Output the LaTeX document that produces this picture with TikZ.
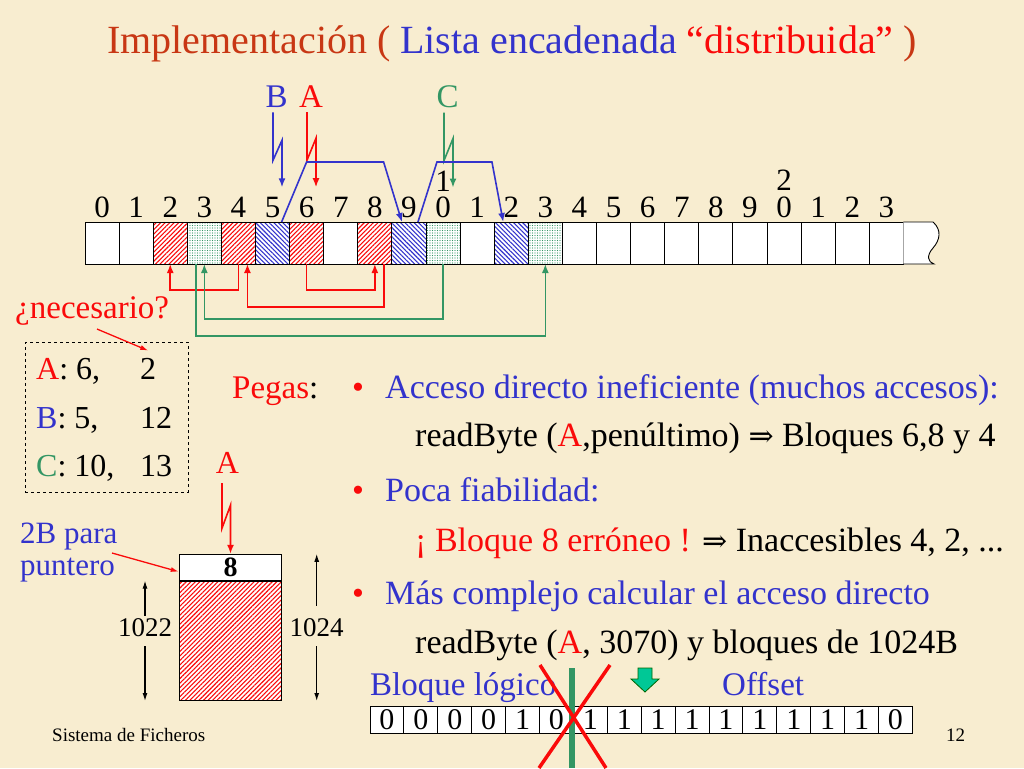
\documentclass[tikz,border=0pt]{standalone}
\usepackage{fontspec}
\setmainfont{Liberation Serif}
\newfontfamily\symf{DejaVu Serif}
\usetikzlibrary{patterns.meta,arrows.meta}
\definecolor{bgc}{RGB}{248,237,208}
\definecolor{titc}{RGB}{200,55,20}
\definecolor{myblue}{RGB}{51,51,204}
\definecolor{myred}{RGB}{250,10,10}
\definecolor{mygreen}{RGB}{51,150,100}
\definecolor{arrgreen}{RGB}{0,200,150}
\newcommand{\fs}[1]{\fontsize{#1}{#1}\selectfont}
\newcommand{\impl}{{\symf\fontsize{30}{30}\selectfont ⇒}}
\begin{document}
\begin{tikzpicture}[x=1pt,y=-1pt,
  txt/.style={inner sep=0pt,anchor=base west},
  lbl/.style={inner sep=0pt,anchor=base,font=\fs{33}},
  cellb/.style={draw=black,line width=0.9pt,minimum width=34.1pt,minimum height=42pt,inner sep=0pt,outer sep=0pt},
  wc/.style={cellb,fill=white},
  rc/.style={cellb,preaction={fill=white},pattern={Lines[angle=45,distance=3.2pt,line width=1.1pt]},pattern color=myred},
  bc/.style={cellb,preaction={fill=white},pattern={Lines[angle=-45,distance=3.2pt,line width=1.1pt]},pattern color=myblue},
  gc/.style={cellb,preaction={fill=white},pattern={Dots[distance=2.5pt,radius=0.65pt]},pattern color=mygreen},
  dig/.style={inner sep=0pt,anchor=base,font=\fs{31}},
  bit/.style={draw=black,line width=0.9pt,minimum width=33.9pt,minimum height=27pt,inner sep=0pt,outer sep=0pt,fill=white,font=\fs{30}},
  tip/.style={-{Latex[length=9pt,width=7pt]}},
  smalltip/.style={-{Latex[length=8pt,width=5pt]}},
  redl/.style={draw=myred,line width=1.6pt},
  bluel/.style={draw=myblue,line width=1.6pt},
  greenl/.style={draw=mygreen,line width=1.6pt},
  diml/.style={draw=black,line width=1.2pt,smalltip}
]
\fill[bgc] (0,0) rectangle (1024,768);
\useasboundingbox (0,0) rectangle (1024,768);

% title
\node[inner sep=0pt,anchor=base,font=\fs{40}] (title) at (512,53)
  {\textcolor{titc}{Implementación (} \textcolor{myblue}{Lista encadenada} \textcolor{myred}{“distribuida”} \textcolor{titc}{)}};

% strip of blocks
\foreach \i/\s in {0/wc,1/wc,2/rc,3/gc,4/rc,5/bc,6/rc,7/wc,8/rc,9/bc,10/gc,11/wc,12/bc,13/gc,14/wc,15/wc,16/wc,17/wc,18/wc,19/wc,20/wc,21/wc,22/wc,23/wc}
  \node[\s] (c\i) at (102.05+34.1*\i,243) {};
\draw[line width=0.9pt,fill=white] (903.4,222) -- (933,222) .. controls (942,230) and (940,240) .. (933,248) .. controls (926,256) and (928,262) .. (934,264) -- (903.4,264);

\foreach \i/\d in {0/0,1/1,2/2,3/3,4/4,5/5,6/6,7/7,8/8,9/9,10/0,11/1,12/2,13/3,14/4,15/5,16/6,17/7,18/8,19/9,20/0,21/1,22/2,23/3}
  \node[dig] (d\i) at (102.05+34.1*\i,217) {\d};
\node[dig] (d10t) at (443.05,191) {1};
\node[dig] (d20t) at (784.05,190) {2};

% pointer labels
\node[lbl,text=myblue] (lB) at (276.7,107) {B};
\node[lbl,text=myred] (lA) at (311,107) {A};
\node[lbl,text=mygreen] (lC) at (447.7,107) {C};
\draw[bluel,tip] (lB.south) ++(-3.7,5) -- ++(0,48) -- ++(9,-20) -- ++(0,47);
\draw[redl,tip] (lA.south) ++(-4,5) -- ++(0,48) -- ++(9,-22) -- ++(0,49);
\draw[greenl,tip] (lC.south) ++(-3.7,5) -- ++(0,48) -- ++(9,-22) -- ++(0,49);

% chain B: 5 -> 9 -> 12
\draw[bluel,tip] ([xshift=-8pt]c5.north east) -- ++(25,-60) -- ++(77,0) -- ([xshift=-7pt]c9.north);
\draw[bluel,tip] ([xshift=9pt]c9.north) -- ++(19,-60) -- ++(55,0) -- ([xshift=-8pt]c12.north);

% chain A: 6 -> 8 -> 4 -> 2
\draw[redl,tip] (c6.south) -- ++(0,26) -| (c8.south);
\draw[redl,tip] ([xshift=9pt]c8.south) -- ++(0,43) -| ([xshift=9pt]c4.south);
\draw[redl,tip] (c4.south) -- ++(0,26) -| (c2.south);
% chain C: 10 -> 3 -> 13
\draw[greenl,tip] (c10.south) -- ++(0,55) -| (c3.south);
\draw[greenl,tip] ([xshift=-8.5pt]c3.south) -- ++(0,72) -| (c13.south);

% necesario + table
\node[txt,font=\fs{33},text=myred] (nec) at (15,318) {¿necesario?};
\node[draw=black,dashed,line width=0.9pt,minimum width=162.7pt,minimum height=150pt,inner sep=0pt,anchor=north west] (tab) at (25,341.7) {};
\node[txt,font=\fs{32}] (ra) at (36,379) {\textcolor{myred}{A}: 6,};
\node[txt,font=\fs{32}] (rb) at (36,428) {\textcolor{myblue}{B}: 5,};
\node[txt,font=\fs{32}] (rc) at (36,476.7) {\textcolor{mygreen}{C}: 10,};
\node[txt,font=\fs{32}] (na) at (140,379) {2};
\node[txt,font=\fs{32}] (nb) at (140,428) {12};
\node[txt,font=\fs{32}] (nc) at (140,476.7) {13};
\draw[redl,line width=1.3pt,smalltip] (nec.south west) ++(82,4) -- ([yshift=7pt]na.north);

% single block detail
\node[lbl,text=myred,font=\fs{32}] (lA2) at (227.5,473) {A};
\node[draw=black,line width=1.1pt,fill=white,minimum width=102.4pt,minimum height=25.7pt,inner sep=0pt,font=\fs{28}\bfseries] (blk8) at (230.5,567.2) {8};
\node[draw=black,line width=1.1pt,preaction={fill=white},pattern={Lines[angle=45,distance=3.2pt,line width=1.1pt]},pattern color=myred,minimum width=102.4pt,minimum height=119.3pt,inner sep=0pt,anchor=north] (blkd) at (blk8.south) {};
\draw[redl,tip] (lA2.south) ++(-5.5,10) -- ++(0,45) -- ++(8.5,-23) -- (blk8.north);
\node[txt,font=\fs{31},text=myblue] (p1) at (20,543) {2B para};
\node[txt,font=\fs{31},text=myblue] (p2) at (20,575) {puntero};
\coordinate (pstart) at (112,553);
\draw[redl,line width=1.3pt,smalltip] (pstart) -- ([yshift=-4.5pt]blk8.west);
\node[inner sep=3pt,font=\fs{27}] (n1022) at (145,628) {1022};
\node[inner sep=3pt,font=\fs{27}] (n1024) at (316.7,628) {1024};
\draw[diml] (n1022.north) -- (n1022.north |- blkd.north);
\draw[diml] (n1022.south) ++(0,6) -- (n1022.south |- blkd.south);
\draw[diml] (n1024.north) ++(0,-10) -- (n1024.north |- blk8.north);
\draw[diml] (n1024.south) ++(0,6) -- (n1024.south |- blkd.south);

% text column
\node[txt,font=\fs{33}] (peg) at (232,398) {\textcolor{myred}{Pegas}:};
\node[txt,font=\fs{34},text=myred] (bu1) at (352,398) {•};
\node[txt,font=\fs{34},text=myblue] (t1) at (385,398) {Acceso directo ineficiente (muchos accesos):};
\node[txt,font=\fs{34}] (s1) at (415,446) {readByte (\textcolor{myred}{A},penúltimo) \impl{} Bloques 6,8 y 4};
\node[txt,font=\fs{34},text=myred] (bu2) at (352,501) {•};
\node[txt,font=\fs{34},text=myblue] (t2) at (385,501) {Poca fiabilidad:};
\node[txt,font=\fs{34}] (s2) at (415,551) {\textcolor{myred}{¡ Bloque 8 erróneo !} \impl{} Inaccesibles 4, 2, ...};
\node[txt,font=\fs{34},text=myred] (bu3) at (352,604) {•};
\node[txt,font=\fs{34},text=myblue] (t3) at (385,604) {Más complejo calcular el acceso directo};
\node[txt,font=\fs{34}] (s3) at (415,653) {readByte (\textcolor{myred}{A}, 3070) y bloques de 1024B};

% bits
\node[txt,font=\fs{33},text=myblue] (bl) at (370,695) {Bloque lógico};
\node[txt,font=\fs{33},text=myblue] (off) at (722,695) {Offset};
\foreach \i/\v in {0/0,1/0,2/0,3/0,4/1,5/0,6/1,7/1,8/1,9/1,10/1,11/1,12/1,13/1,14/1,15/0}
  \node[bit] (bit\i) at (386.95+33.9*\i,719.5) {\v};
\draw[mygreen,line width=6pt] (572,668) -- (572,768);
\draw[myred,line width=3.5pt] (540,665) -- (606,768);
\draw[myred,line width=3.5pt] (610,665) -- (539,768);
\filldraw[fill=arrgreen,draw=black!60!green,line width=0.8pt] (638,668) -- (652,668) -- (652,679) -- (659,679) -- (645,692) -- (631,679) -- (638,679) -- cycle;

% footer
\node[txt,font=\fs{19}] (ft) at (52,741) {Sistema de Ficheros};
\node[txt,font=\fs{19}] (pg) at (946,741) {12};
\end{tikzpicture}
\end{document}
